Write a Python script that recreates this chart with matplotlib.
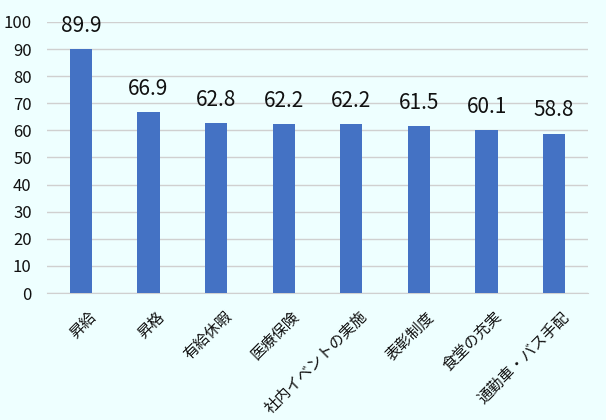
import matplotlib.pyplot as plt
import matplotlib.transforms as mtransforms

plt.rcParams['font.family'] = ['Noto Sans CJK JP', 'DejaVu Sans']

categories = ['昇給', '昇格', '有給休暇', '医療保険', '社内イベントの実施', '表彰制度', '食堂の充実', '通勤車・バス手配']
values = [89.9, 66.9, 62.8, 62.2, 62.2, 61.5, 60.1, 58.8]

bg = '#EEFFFF'
fig = plt.figure(figsize=(6.06, 4.2), dpi=100, facecolor=bg)
ax = fig.add_axes([47 / 606, 1 - 293 / 420, 541 / 606, 271 / 420])
ax.set_facecolor(bg)

x = range(len(categories))
ax.bar(x, values, width=0.33, color='#4472C4', zorder=3)
for i, v in enumerate(values):
    ax.text(i, v + 4.5, f'{v:.1f}', ha='center', va='bottom', fontsize=15, color='#111111')

ax.set_xlim(-0.5, len(categories) - 0.5)
ax.set_ylim(0, 100)
ax.set_yticks(range(0, 101, 10))
ax.yaxis.grid(True, color='#D0D0D0', linewidth=1, zorder=0)
ax.set_xticks(list(x))
ax.set_xticklabels(categories, rotation=45, ha='right', rotation_mode='anchor', fontsize=11)
ax.tick_params(axis='both', length=0, colors='#111111')
ax.tick_params(axis='y', labelsize=12, pad=11)
ax.tick_params(axis='x', pad=11)
shift = mtransforms.ScaledTranslation(0.07, 0, fig.dpi_scale_trans)
for lab in ax.get_xticklabels():
    lab.set_transform(lab.get_transform() + shift)
for s in ['top', 'right', 'left']:
    ax.spines[s].set_visible(False)
ax.spines['bottom'].set_color('#D0D0D0')

fig.savefig('out.png', dpi=100, facecolor=bg)
